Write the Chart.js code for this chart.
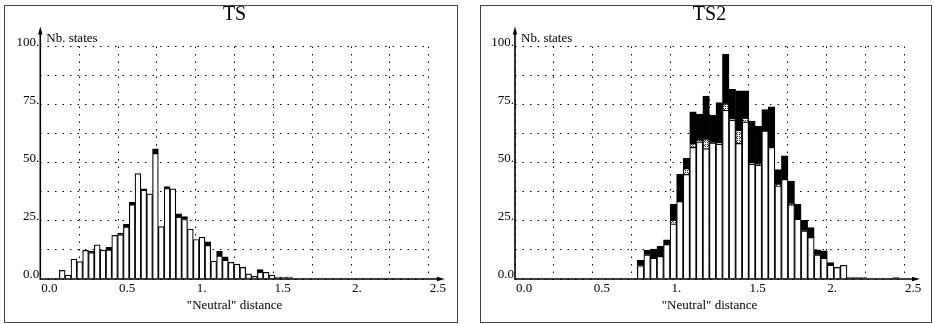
<!DOCTYPE html>
<html>
<head>
<meta charset="utf-8">
<script src="https://cdn.jsdelivr.net/npm/chart.js@4.4.1/dist/chart.umd.min.js"></script>
<style>
  html, body { margin: 0; padding: 0; background: #fff; }
  body { width: 934px; height: 324px; position: relative; overflow: hidden; }
  canvas { position: absolute; top: 0; }
  .frame { position: absolute; border: 1px solid #444; box-sizing: border-box; pointer-events: none; }
</style>
</head>
<body>
<canvas id="c1" width="467" height="324" style="left:0px"></canvas>
<canvas id="c2" width="467" height="324" style="left:467px"></canvas>
<div class="frame" style="left:4px; top:5px; width:454px; height:318px;"></div>
<div class="frame" style="left:480px; top:5px; width:452px; height:318px;"></div>
<script>
// ---- Data ----
// TS : bin centres ("Neutral" distance) and number of states per bin
const binsTS = [0.1412, 0.1787, 0.2162, 0.2536, 0.2911, 0.3286, 0.3661, 0.4036, 0.4410, 0.4785,
                0.5160, 0.5535, 0.5910, 0.6284, 0.6659, 0.7034, 0.7409, 0.7784, 0.8158, 0.8533,
                0.8908, 0.9283, 0.9658, 1.0032, 1.0407, 1.0782, 1.1157, 1.1532, 1.1906, 1.2281,
                1.2656, 1.3031, 1.3406, 1.3780, 1.4155, 1.4530, 1.4905, 1.5280, 1.5654, 1.6029];
const tsWhite = [3.7, 1.7, 8.5, 7.5, 12.3, 11.3, 14.7, 12.4, 12.5, 18.8,
                 19.1, 22.4, 32, 45.3, 38.2, 36.6, 54, 22.5, 39, 38.8,
                 26.6, 25.6, 21.5, 17, 18, 14.5, 7.7, 9.9, 8.1, 7.2,
                 6.4, 5, 2.2, 1.1, 3, 2.9, 1.7, 0.8, 0.8, 0.8];
const tsBlack = [0, 0, 0, 0, 0, 0.7, 0, 0, 1.1, 0,
                 0.6, 1.1, 1, 0, 0.6, 0, 2, 0, 0.8, 0,
                 1.4, 1.2, 0, 0, 0, 1.5, 0, 2, 1.4, 0,
                 0, 0, 0, 0, 1, 0, 0, 0, 0, 0];

// TS2
const binsTS2 = [0.8071, 0.8492, 0.8913, 0.9334, 0.9755, 1.0176, 1.0597, 1.1018, 1.1439, 1.1860,
                 1.2281, 1.2702, 1.3123, 1.3544, 1.3965, 1.4386, 1.4807, 1.5228, 1.5649, 1.6070,
                 1.6491, 1.6912, 1.7333, 1.7754, 1.8175, 1.8596, 1.9017, 1.9438, 1.9859, 2.0280,
                 2.0701, 2.1122, 2.1543, 2.1964, 2.2385, 2.2806, 2.3227, 2.3648, 2.4069, 2.4490];
const ts2White = [5.7, 10.4, 9, 9.7, 14.9, 23.7, 33.4, 45, 56.6, 59,
                  56.1, 58.6, 58, 72.6, 68.3, 58.3, 67.6, 49.4, 49, 63.7,
                  56.6, 40, 42.9, 32, 25.7, 20.7, 17.9, 10.4, 9, 6,
                  5, 5.9, 0, 0, 0, 0, 0, 0, 0, 0];
const ts2Hatched = [0, 0, 0, 0, 0, 1.7, 0, 2.6, 1.7, 0.8,
                    3.9, 0, 0.5, 2.8, 0.5, 5.7, 1.7, 0.5, 0.5, 0,
                    0, 0.5, 0, 0.5, 0, 0, 0, 0, 0, 0,
                    0, 0, 0.6, 0.6, 0.6, 0, 0, 0, 0, 0.6];
const ts2Black = [2.3, 1.9, 3.9, 4.3, 2, 6.7, 11.6, 4.3, 13.6, 11.1,
                  18.7, 11.8, 17.4, 21.2, 12.8, 16.9, 11.6, 18, 16.2, 9.2,
                  17.4, 6.6, 10.1, 9.6, 6.4, 4.6, 4.2, 2.2, 3.1, 1.1,
                  0, 0, 0, 0, 0, 0, 0, 0, 0, 0];

// Tick labels
const xTickValues = [0, 0.5, 1, 1.5, 2, 2.5];
const xTickText   = ['0.0', '0.5', '1.', '1.5', '2.', '2.5'];
const yTickValues = [0, 25, 50, 75, 100];
const yTickText   = ['0.0', '25.', '50.', '75.', '100.'];

// ---- Rendering ----
const FONT = 'Liberation Serif, Times New Roman, serif';

function labelFor(values, texts, v) {
  for (let i = 0; i < values.length; i++) if (Math.abs(values[i] - v) < 1e-6) return texts[i];
  return '';
}

function hatchPattern() {
  const c = document.createElement('canvas');
  c.width = 4; c.height = 4;
  const g = c.getContext('2d');
  g.fillStyle = '#fff'; g.fillRect(0, 0, 4, 4);
  g.fillStyle = '#333';
  g.fillRect(0, 0, 1, 1); g.fillRect(2, 2, 1, 1); g.fillRect(2, 0, 1, 1); g.fillRect(0, 2, 1, 1);
  g.fillRect(1, 1, 1, 1);
  return g.createPattern(c, 'repeat');
}

const axesPlugin = {
  id: 'axesArrows',
  afterDraw(chart) {
    const { ctx } = chart;
    const x = chart.scales.x, y = chart.scales.y;
    const x0 = x.getPixelForValue(0), y0 = y.getPixelForValue(0);
    const yTop = y.getPixelForValue(100), xEnd = x.getPixelForValue(2.5);
    ctx.save();
    ctx.strokeStyle = '#000'; ctx.fillStyle = '#000'; ctx.lineWidth = 1.6;
    ctx.beginPath();
    ctx.moveTo(x0, y0); ctx.lineTo(x0, yTop - 16);
    ctx.moveTo(x0 - 0.8, y0); ctx.lineTo(xEnd + 12, y0);
    ctx.stroke();
    ctx.beginPath();
    ctx.moveTo(x0, yTop - 20); ctx.lineTo(x0 - 2.2, yTop - 12); ctx.lineTo(x0 + 2.2, yTop - 12); ctx.closePath(); ctx.fill();
    ctx.beginPath();
    ctx.moveTo(xEnd + 16, y0); ctx.lineTo(xEnd + 8, y0 - 2.2); ctx.lineTo(xEnd + 8, y0 + 2.2); ctx.closePath(); ctx.fill();
    ctx.font = '13px ' + FONT;
    ctx.textBaseline = 'alphabetic'; ctx.textAlign = 'left';
    ctx.fillText('Nb. states', x0 + 6, yTop - 5);
    ctx.restore();
  }
};

function makeChart(id, title, bins, layers, yWidth, padRight) {
  const datasets = layers.map(l => ({
    label: l.label,
    data: bins.map((b, i) => ({ x: b, y: l.values[i] })),
    backgroundColor: l.color,
    borderColor: '#000',
    borderWidth: 1.2,
    barPercentage: 1,
    categoryPercentage: 1
  }));
  const gridOpts = { color: '#000', lineWidth: 1, drawTicks: false, offset: false };
  return new Chart(document.getElementById(id), {
    type: 'bar',
    data: { datasets },
    plugins: [axesPlugin],
    options: {
      responsive: false,
      animation: false,
      layout: { padding: { left: 0, right: padRight, top: 0, bottom: 0 } },
      plugins: {
        legend: { display: false },
        tooltip: { enabled: false },
        title: {
          display: true, text: title, color: '#000', fullSize: false,
          font: { family: FONT, size: 20, weight: 'normal' },
          padding: { top: 3, bottom: 19.5 }
        }
      },
      scales: {
        x: {
          type: 'linear', min: 0, max: 2.5, offset: false, stacked: true,
          grid: gridOpts,
          border: { display: false, dash: [1.5, 6] },
          ticks: {
            stepSize: 0.25, autoSkip: false, maxRotation: 0, minRotation: 0,
            align: 'start', labelOffset: 1, padding: 2, color: '#000',
            font: { family: FONT, size: 13 },
            callback: v => labelFor(xTickValues, xTickText, v)
          },
          title: {
            display: true, text: '"Neutral" distance', color: '#000',
            font: { family: FONT, size: 13 }, padding: { top: 0, bottom: 11 }
          },
          afterFit: s => { s.height = 45; }
        },
        y: {
          type: 'linear', min: 0, max: 100, stacked: true,
          grid: gridOpts,
          border: { display: false, dash: [1.5, 6] },
          ticks: {
            stepSize: 12.5, autoSkip: false, padding: 1, labelOffset: -4, color: '#000',
            font: { family: FONT, size: 13 },
            callback: v => labelFor(yTickValues, yTickText, v)
          },
          afterFit: s => { s.width = yWidth; }
        }
      }
    }
  });
}

const hatch = hatchPattern();
makeChart('c1', 'TS', binsTS, [
  { label: 'states', values: tsWhite, color: '#ffffff' },
  { label: 'black', values: tsBlack, color: '#000000' }
], 40.3, 38.2);
makeChart('c2', 'TS2', binsTS2, [
  { label: 'states', values: ts2White, color: '#ffffff' },
  { label: 'hatched', values: ts2Hatched, color: hatch },
  { label: 'black', values: ts2Black, color: '#000000' }
], 48, 30);
</script>
</body>
</html>
